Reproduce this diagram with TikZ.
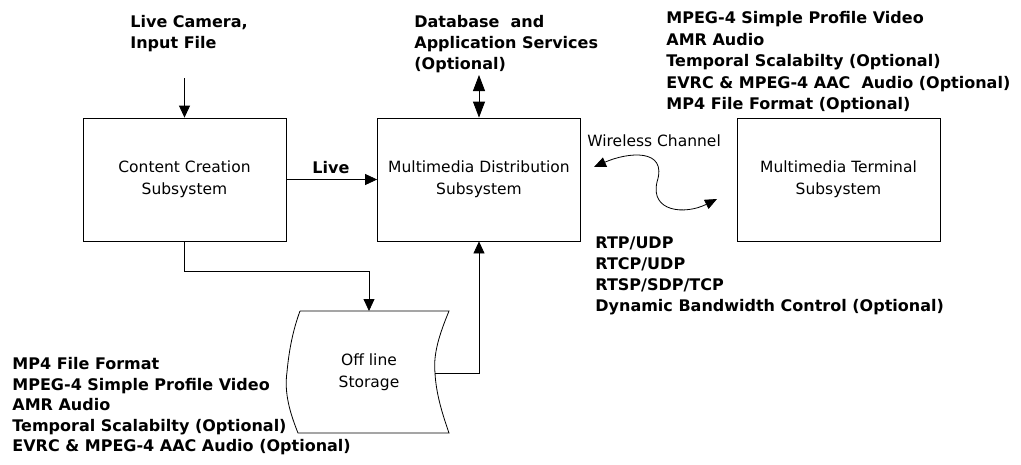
\documentclass[tikz,border=0pt]{standalone}
\usepackage{fontspec}
\setmainfont{DejaVu Sans}
\usetikzlibrary{arrows.meta}
\newcommand\regtext{\fontsize{15.5}{22}\selectfont}
\newcommand\boldtext{\fontsize{16}{21}\selectfont\bfseries}
\begin{document}
\begin{tikzpicture}[x=1pt,y=-1pt,
  line width=0.8pt,
  sysbox/.style={draw, minimum width=203pt, minimum height=123pt,
    font=\regtext, align=center, inner sep=0pt},
  lbl/.style={font=\boldtext, align=left, inner sep=0pt, anchor=north west},
  conn/.style={-{Triangle[length=12pt,width=11pt]}},
  both/.style={{Triangle[length=16pt,width=12pt]}-{Triangle[length=16pt,width=12pt]}},
  wave/.style={{Triangle[length=12pt,width=10pt]}-{Triangle[length=12pt,width=10pt]}}]
\useasboundingbox (0,0) rectangle (1021,464);

% subsystems
\node[sysbox] (cc) at (184.5,179.5) {Content Creation\\Subsystem};
\node[sysbox] (md) at (479,179.5) {Multimedia Distribution\\Subsystem};
\node[sysbox] (mt) at (838.5,179.5) {Multimedia Terminal\\Subsystem};

% off-line storage (stored-data shape)
\draw (300,311) -- (449,311)
  .. controls (440,333) and (433,353) .. (435,373)
  .. controls (436,393) and (442,413) .. (449,433)
  -- (298,433)
  .. controls (290,413) and (284,393) .. (287,372)
  .. controls (289,350) and (293,330) .. (300,311);
\node[font=\regtext, align=center, inner sep=0pt] (st) at (369,372) {Off line\\Storage};
\coordinate (sttop) at (369,311);
\coordinate (stright) at (435,373);

% free ends
\coordinate (camin) at (184.5,78);
\coordinate (dbin) at (479,75);
\coordinate (w1) at (594,167);
\coordinate (w2) at (717,199);
\coordinate (wm) at (657,182);

% connectors
\draw[conn] (camin) -- (cc.north);
\draw[both] (dbin) -- (md.north);
\draw[conn] (cc.east) -- (md.west);
\draw[conn] (cc.south) -- ++(0,30) -| (sttop);
\draw[conn] (stright) -| (md.south);
\draw[wave] (w1) .. controls (628,152) and (668,148) .. (wm)
  .. controls (650,212) and (685,215) .. (w2);

% labels
\node[lbl] (lcam) at (130,15) {Live Camera,\\Input File};
\node[lbl] (ldb) at (414,15) {Database\ \ and\\Application Services\\(Optional)};
\node[lbl] (llive) at (312,161) {Live};
\node[font=\regtext, inner sep=0pt, anchor=north west] (lwc) at (587,134) {Wireless Channel};
\node[lbl, font=\fontsize{16}{21.6}\selectfont\bfseries] (lmt) at (666,11) {MPEG-4 Simple Profile Video\\AMR Audio\\Temporal Scalabilty (Optional)\\EVRC \& MPEG-4 AAC\ \ Audio (Optional)\\MP4 File Format (Optional)};
\node[lbl, font=\fontsize{16}{21.3}\selectfont\bfseries] (lnet) at (595,236) {RTP/UDP\\RTCP/UDP\\RTSP/SDP/TCP\\Dynamic Bandwidth Control (Optional)};
\node[lbl, font=\fontsize{16}{20.5}\selectfont\bfseries] (lst) at (12,357) {MP4 File Format\\MPEG-4 Simple Profile Video\\AMR Audio\\Temporal Scalabilty (Optional)\\EVRC \& MPEG-4 AAC Audio (Optional)};
\end{tikzpicture}
\end{document}
